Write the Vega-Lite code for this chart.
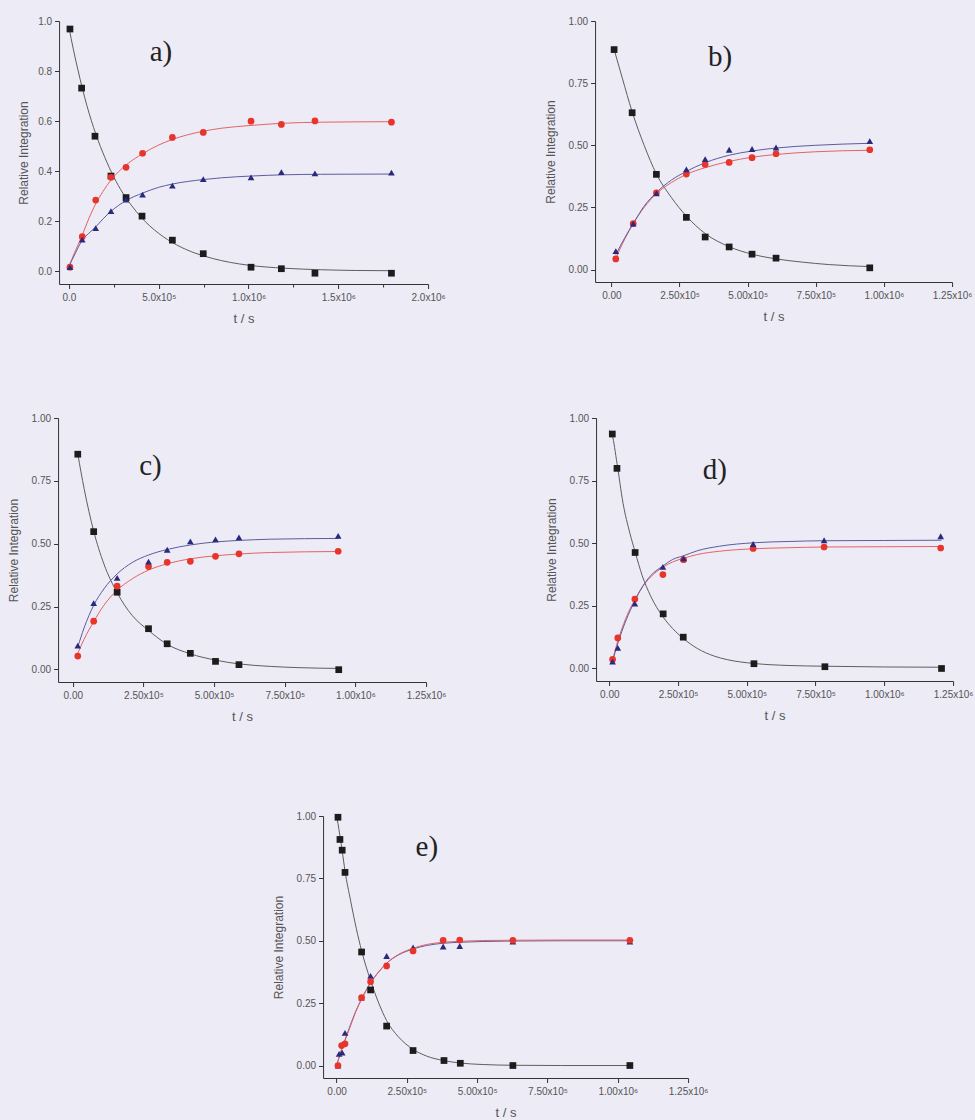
{
  "$schema": "https://vega.github.io/schema/vega-lite/v6.json",
  "background": "#ecebf6",
  "padding": {"left": 7, "top": 16, "right": 2, "bottom": 0},
  "datasets": {
    "pts": [
      {"panel":"a","series":"A","t":5600,"y":0.968},{"panel":"a","series":"A","t":70600,"y":0.732},{"panel":"a","series":"A","t":145000,"y":0.54},{"panel":"a","series":"A","t":234000,"y":0.381},{"panel":"a","series":"A","t":318000,"y":0.295},{"panel":"a","series":"A","t":407000,"y":0.221},{"panel":"a","series":"A","t":576000,"y":0.125},{"panel":"a","series":"A","t":748000,"y":0.071},{"panel":"a","series":"A","t":1014000,"y":0.017},{"panel":"a","series":"A","t":1183000,"y":0.011},{"panel":"a","series":"A","t":1370000,"y":-0.007},{"panel":"a","series":"A","t":1796000,"y":-0.007},
      {"panel":"a","series":"B","t":5600,"y":0.017},{"panel":"a","series":"B","t":74000,"y":0.139},{"panel":"a","series":"B","t":149000,"y":0.285},{"panel":"a","series":"B","t":234000,"y":0.376},{"panel":"a","series":"B","t":318000,"y":0.416},{"panel":"a","series":"B","t":410000,"y":0.472},{"panel":"a","series":"B","t":576000,"y":0.535},{"panel":"a","series":"B","t":748000,"y":0.555},{"panel":"a","series":"B","t":1014000,"y":0.6},{"panel":"a","series":"B","t":1183000,"y":0.587},{"panel":"a","series":"B","t":1370000,"y":0.601},{"panel":"a","series":"B","t":1796000,"y":0.596},
      {"panel":"a","series":"C","t":5600,"y":0.017},{"panel":"a","series":"C","t":74000,"y":0.127},{"panel":"a","series":"C","t":149000,"y":0.173},{"panel":"a","series":"C","t":234000,"y":0.241},{"panel":"a","series":"C","t":318000,"y":0.287},{"panel":"a","series":"C","t":410000,"y":0.307},{"panel":"a","series":"C","t":576000,"y":0.343},{"panel":"a","series":"C","t":748000,"y":0.369},{"panel":"a","series":"C","t":1014000,"y":0.376},{"panel":"a","series":"C","t":1183000,"y":0.397},{"panel":"a","series":"C","t":1370000,"y":0.392},{"panel":"a","series":"C","t":1796000,"y":0.395},

      {"panel":"b","series":"A","t":9800,"y":0.885},{"panel":"b","series":"A","t":76000,"y":0.631},{"panel":"b","series":"A","t":165000,"y":0.383},{"panel":"b","series":"A","t":275000,"y":0.21},{"panel":"b","series":"A","t":344000,"y":0.131},{"panel":"b","series":"A","t":432000,"y":0.091},{"panel":"b","series":"A","t":516000,"y":0.062},{"panel":"b","series":"A","t":604000,"y":0.046},{"panel":"b","series":"A","t":948000,"y":0.007},
      {"panel":"b","series":"B","t":16000,"y":0.043},{"panel":"b","series":"B","t":80000,"y":0.185},{"panel":"b","series":"B","t":165000,"y":0.309},{"panel":"b","series":"B","t":275000,"y":0.384},{"panel":"b","series":"B","t":344000,"y":0.423},{"panel":"b","series":"B","t":432000,"y":0.431},{"panel":"b","series":"B","t":516000,"y":0.45},{"panel":"b","series":"B","t":604000,"y":0.466},{"panel":"b","series":"B","t":948000,"y":0.482},
      {"panel":"b","series":"C","t":16000,"y":0.074},{"panel":"b","series":"C","t":80000,"y":0.185},{"panel":"b","series":"C","t":165000,"y":0.307},{"panel":"b","series":"C","t":275000,"y":0.403},{"panel":"b","series":"C","t":344000,"y":0.444},{"panel":"b","series":"C","t":432000,"y":0.482},{"panel":"b","series":"C","t":516000,"y":0.485},{"panel":"b","series":"C","t":604000,"y":0.491},{"panel":"b","series":"C","t":948000,"y":0.517},

      {"panel":"c","series":"A","t":17700,"y":0.856},{"panel":"c","series":"A","t":74000,"y":0.548},{"panel":"c","series":"A","t":157000,"y":0.307},{"panel":"c","series":"A","t":268000,"y":0.162},{"panel":"c","series":"A","t":334000,"y":0.102},{"panel":"c","series":"A","t":416000,"y":0.064},{"panel":"c","series":"A","t":505000,"y":0.032},{"panel":"c","series":"A","t":588000,"y":0.019},{"panel":"c","series":"A","t":941000,"y":-0.001},
      {"panel":"c","series":"B","t":17700,"y":0.053},{"panel":"c","series":"B","t":74000,"y":0.192},{"panel":"c","series":"B","t":157000,"y":0.331},{"panel":"c","series":"B","t":268000,"y":0.409},{"panel":"c","series":"B","t":334000,"y":0.426},{"panel":"c","series":"B","t":416000,"y":0.43},{"panel":"c","series":"B","t":505000,"y":0.45},{"panel":"c","series":"B","t":588000,"y":0.46},{"panel":"c","series":"B","t":939000,"y":0.47},
      {"panel":"c","series":"C","t":17700,"y":0.095},{"panel":"c","series":"C","t":74000,"y":0.264},{"panel":"c","series":"C","t":157000,"y":0.364},{"panel":"c","series":"C","t":268000,"y":0.429},{"panel":"c","series":"C","t":334000,"y":0.476},{"panel":"c","series":"C","t":416000,"y":0.509},{"panel":"c","series":"C","t":505000,"y":0.517},{"panel":"c","series":"C","t":588000,"y":0.525},{"panel":"c","series":"C","t":939000,"y":0.531},

      {"panel":"d","series":"A","t":11000,"y":0.936},{"panel":"d","series":"A","t":28000,"y":0.799},{"panel":"d","series":"A","t":94000,"y":0.463},{"panel":"d","series":"A","t":196000,"y":0.218},{"panel":"d","series":"A","t":269000,"y":0.125},{"panel":"d","series":"A","t":526000,"y":0.019},{"panel":"d","series":"A","t":784000,"y":0.007},{"panel":"d","series":"A","t":1208000,"y":0.0},
      {"panel":"d","series":"B","t":12000,"y":0.036},{"panel":"d","series":"B","t":31000,"y":0.122},{"panel":"d","series":"B","t":93000,"y":0.277},{"panel":"d","series":"B","t":195000,"y":0.375},{"panel":"d","series":"B","t":270000,"y":0.434},{"panel":"d","series":"B","t":523000,"y":0.479},{"panel":"d","series":"B","t":781000,"y":0.485},{"panel":"d","series":"B","t":1205000,"y":0.481},
      {"panel":"d","series":"C","t":12000,"y":0.027},{"panel":"d","series":"C","t":31000,"y":0.082},{"panel":"d","series":"C","t":93000,"y":0.259},{"panel":"d","series":"C","t":195000,"y":0.406},{"panel":"d","series":"C","t":270000,"y":0.44},{"panel":"d","series":"C","t":523000,"y":0.497},{"panel":"d","series":"C","t":781000,"y":0.512},{"panel":"d","series":"C","t":1205000,"y":0.528},

      {"panel":"e","series":"A","t":5000,"y":0.995},{"panel":"e","series":"A","t":12000,"y":0.906},{"panel":"e","series":"A","t":20000,"y":0.863},{"panel":"e","series":"A","t":30000,"y":0.774},{"panel":"e","series":"A","t":89000,"y":0.455},{"panel":"e","series":"A","t":121000,"y":0.303},{"panel":"e","series":"A","t":178000,"y":0.158},{"panel":"e","series":"A","t":272000,"y":0.06},{"panel":"e","series":"A","t":382000,"y":0.02},{"panel":"e","series":"A","t":440000,"y":0.009},{"panel":"e","series":"A","t":627000,"y":0.0},{"panel":"e","series":"A","t":1043000,"y":0.0},
      {"panel":"e","series":"C","t":5000,"y":0.0},{"panel":"e","series":"C","t":9000,"y":0.047},{"panel":"e","series":"C","t":20000,"y":0.052},{"panel":"e","series":"C","t":30000,"y":0.131},{"panel":"e","series":"C","t":89000,"y":0.272},{"panel":"e","series":"C","t":121000,"y":0.359},{"panel":"e","series":"C","t":178000,"y":0.439},{"panel":"e","series":"C","t":272000,"y":0.473},{"panel":"e","series":"C","t":379000,"y":0.477},{"panel":"e","series":"C","t":438000,"y":0.479},{"panel":"e","series":"C","t":627000,"y":0.497},{"panel":"e","series":"C","t":1043000,"y":0.497},
      {"panel":"e","series":"B","t":5000,"y":0.0},{"panel":"e","series":"B","t":18000,"y":0.08},{"panel":"e","series":"B","t":30000,"y":0.087},{"panel":"e","series":"B","t":89000,"y":0.272},{"panel":"e","series":"B","t":121000,"y":0.336},{"panel":"e","series":"B","t":178000,"y":0.399},{"panel":"e","series":"B","t":272000,"y":0.459},{"panel":"e","series":"B","t":379000,"y":0.502},{"panel":"e","series":"B","t":438000,"y":0.503},{"panel":"e","series":"B","t":627000,"y":0.502},{"panel":"e","series":"B","t":1043000,"y":0.502}
    ],
    "fit": [
      {"panel":"a","series":"A","t":0,"y":0.975},{"panel":"a","series":"A","t":25000,"y":0.885},{"panel":"a","series":"A","t":50000,"y":0.805},{"panel":"a","series":"A","t":75000,"y":0.73},{"panel":"a","series":"A","t":100000,"y":0.662},{"panel":"a","series":"A","t":150000,"y":0.548},{"panel":"a","series":"A","t":200000,"y":0.455},{"panel":"a","series":"A","t":250000,"y":0.377},{"panel":"a","series":"A","t":300000,"y":0.313},{"panel":"a","series":"A","t":350000,"y":0.262},{"panel":"a","series":"A","t":400000,"y":0.218},{"panel":"a","series":"A","t":500000,"y":0.152},{"panel":"a","series":"A","t":600000,"y":0.106},{"panel":"a","series":"A","t":700000,"y":0.074},{"panel":"a","series":"A","t":800000,"y":0.052},{"panel":"a","series":"A","t":900000,"y":0.036},{"panel":"a","series":"A","t":1000000,"y":0.025},{"panel":"a","series":"A","t":1200000,"y":0.013},{"panel":"a","series":"A","t":1400000,"y":0.007},{"panel":"a","series":"A","t":1600000,"y":0.004},{"panel":"a","series":"A","t":1800000,"y":0.003},
      {"panel":"a","series":"B","t":0,"y":0.02},{"panel":"a","series":"B","t":37000,"y":0.085},{"panel":"a","series":"B","t":74000,"y":0.145},{"panel":"a","series":"B","t":110000,"y":0.21},{"panel":"a","series":"B","t":149000,"y":0.27},{"panel":"a","series":"B","t":190000,"y":0.32},{"panel":"a","series":"B","t":234000,"y":0.365},{"panel":"a","series":"B","t":318000,"y":0.425},{"panel":"a","series":"B","t":410000,"y":0.47},{"panel":"a","series":"B","t":500000,"y":0.505},{"panel":"a","series":"B","t":576000,"y":0.527},{"panel":"a","series":"B","t":748000,"y":0.56},{"panel":"a","series":"B","t":850000,"y":0.572},{"panel":"a","series":"B","t":1014000,"y":0.583},{"panel":"a","series":"B","t":1200000,"y":0.592},{"panel":"a","series":"B","t":1400000,"y":0.596},{"panel":"a","series":"B","t":1800000,"y":0.598},
      {"panel":"a","series":"C","t":0,"y":0.02},{"panel":"a","series":"C","t":37000,"y":0.075},{"panel":"a","series":"C","t":74000,"y":0.125},{"panel":"a","series":"C","t":110000,"y":0.152},{"panel":"a","series":"C","t":149000,"y":0.178},{"panel":"a","series":"C","t":190000,"y":0.21},{"panel":"a","series":"C","t":234000,"y":0.24},{"panel":"a","series":"C","t":318000,"y":0.283},{"panel":"a","series":"C","t":410000,"y":0.313},{"panel":"a","series":"C","t":500000,"y":0.336},{"panel":"a","series":"C","t":576000,"y":0.349},{"panel":"a","series":"C","t":748000,"y":0.367},{"panel":"a","series":"C","t":850000,"y":0.374},{"panel":"a","series":"C","t":1014000,"y":0.381},{"panel":"a","series":"C","t":1200000,"y":0.386},{"panel":"a","series":"C","t":1400000,"y":0.388},{"panel":"a","series":"C","t":1800000,"y":0.389},

      {"panel":"b","series":"A","t":10000,"y":0.885},{"panel":"b","series":"A","t":40000,"y":0.77},{"panel":"b","series":"A","t":76000,"y":0.635},{"panel":"b","series":"A","t":120000,"y":0.5},{"panel":"b","series":"A","t":165000,"y":0.385},{"panel":"b","series":"A","t":220000,"y":0.29},{"panel":"b","series":"A","t":275000,"y":0.215},{"panel":"b","series":"A","t":344000,"y":0.145},{"panel":"b","series":"A","t":432000,"y":0.092},{"panel":"b","series":"A","t":516000,"y":0.062},{"panel":"b","series":"A","t":604000,"y":0.043},{"panel":"b","series":"A","t":700000,"y":0.03},{"panel":"b","series":"A","t":800000,"y":0.02},{"panel":"b","series":"A","t":948000,"y":0.012},
      {"panel":"b","series":"B","t":16000,"y":0.045},{"panel":"b","series":"B","t":50000,"y":0.125},{"panel":"b","series":"B","t":80000,"y":0.185},{"panel":"b","series":"B","t":120000,"y":0.25},{"panel":"b","series":"B","t":165000,"y":0.305},{"panel":"b","series":"B","t":220000,"y":0.35},{"panel":"b","series":"B","t":275000,"y":0.383},{"panel":"b","series":"B","t":344000,"y":0.41},{"panel":"b","series":"B","t":432000,"y":0.435},{"panel":"b","series":"B","t":516000,"y":0.452},{"panel":"b","series":"B","t":604000,"y":0.463},{"panel":"b","series":"B","t":750000,"y":0.474},{"panel":"b","series":"B","t":948000,"y":0.48},
      {"panel":"b","series":"C","t":16000,"y":0.06},{"panel":"b","series":"C","t":50000,"y":0.13},{"panel":"b","series":"C","t":80000,"y":0.185},{"panel":"b","series":"C","t":120000,"y":0.255},{"panel":"b","series":"C","t":165000,"y":0.31},{"panel":"b","series":"C","t":220000,"y":0.36},{"panel":"b","series":"C","t":275000,"y":0.395},{"panel":"b","series":"C","t":344000,"y":0.43},{"panel":"b","series":"C","t":432000,"y":0.46},{"panel":"b","series":"C","t":516000,"y":0.477},{"panel":"b","series":"C","t":604000,"y":0.489},{"panel":"b","series":"C","t":750000,"y":0.5},{"panel":"b","series":"C","t":948000,"y":0.508},

      {"panel":"c","series":"A","t":18000,"y":0.855},{"panel":"c","series":"A","t":40000,"y":0.72},{"panel":"c","series":"A","t":74000,"y":0.55},{"panel":"c","series":"A","t":110000,"y":0.42},{"panel":"c","series":"A","t":157000,"y":0.305},{"panel":"c","series":"A","t":210000,"y":0.215},{"panel":"c","series":"A","t":268000,"y":0.155},{"panel":"c","series":"A","t":334000,"y":0.1},{"panel":"c","series":"A","t":416000,"y":0.062},{"panel":"c","series":"A","t":505000,"y":0.037},{"panel":"c","series":"A","t":588000,"y":0.022},{"panel":"c","series":"A","t":700000,"y":0.012},{"panel":"c","series":"A","t":800000,"y":0.007},{"panel":"c","series":"A","t":940000,"y":0.004},
      {"panel":"c","series":"B","t":18000,"y":0.065},{"panel":"c","series":"B","t":40000,"y":0.12},{"panel":"c","series":"B","t":74000,"y":0.19},{"panel":"c","series":"B","t":110000,"y":0.255},{"panel":"c","series":"B","t":157000,"y":0.315},{"panel":"c","series":"B","t":210000,"y":0.36},{"panel":"c","series":"B","t":268000,"y":0.395},{"panel":"c","series":"B","t":334000,"y":0.42},{"panel":"c","series":"B","t":416000,"y":0.44},{"panel":"c","series":"B","t":505000,"y":0.452},{"panel":"c","series":"B","t":588000,"y":0.459},{"panel":"c","series":"B","t":700000,"y":0.465},{"panel":"c","series":"B","t":940000,"y":0.469},
      {"panel":"c","series":"C","t":18000,"y":0.09},{"panel":"c","series":"C","t":40000,"y":0.165},{"panel":"c","series":"C","t":74000,"y":0.255},{"panel":"c","series":"C","t":110000,"y":0.32},{"panel":"c","series":"C","t":157000,"y":0.38},{"panel":"c","series":"C","t":210000,"y":0.425},{"panel":"c","series":"C","t":268000,"y":0.455},{"panel":"c","series":"C","t":334000,"y":0.477},{"panel":"c","series":"C","t":416000,"y":0.495},{"panel":"c","series":"C","t":505000,"y":0.507},{"panel":"c","series":"C","t":588000,"y":0.513},{"panel":"c","series":"C","t":700000,"y":0.518},{"panel":"c","series":"C","t":940000,"y":0.521},

      {"panel":"d","series":"A","t":0,"y":0.95},{"panel":"d","series":"A","t":11000,"y":0.93},{"panel":"d","series":"A","t":28000,"y":0.82},{"panel":"d","series":"A","t":50000,"y":0.66},{"panel":"d","series":"A","t":75000,"y":0.54},{"panel":"d","series":"A","t":94000,"y":0.465},{"panel":"d","series":"A","t":120000,"y":0.37},{"panel":"d","series":"A","t":150000,"y":0.29},{"panel":"d","series":"A","t":196000,"y":0.205},{"panel":"d","series":"A","t":230000,"y":0.16},{"panel":"d","series":"A","t":269000,"y":0.12},{"panel":"d","series":"A","t":320000,"y":0.08},{"panel":"d","series":"A","t":380000,"y":0.05},{"panel":"d","series":"A","t":430000,"y":0.035},{"panel":"d","series":"A","t":526000,"y":0.02},{"panel":"d","series":"A","t":650000,"y":0.012},{"panel":"d","series":"A","t":784000,"y":0.009},{"panel":"d","series":"A","t":1000000,"y":0.006},{"panel":"d","series":"A","t":1208000,"y":0.005},
      {"panel":"d","series":"B","t":11000,"y":0.03},{"panel":"d","series":"B","t":31000,"y":0.11},{"panel":"d","series":"B","t":60000,"y":0.2},{"panel":"d","series":"B","t":93000,"y":0.275},{"panel":"d","series":"B","t":120000,"y":0.325},{"panel":"d","series":"B","t":150000,"y":0.365},{"panel":"d","series":"B","t":196000,"y":0.405},{"panel":"d","series":"B","t":230000,"y":0.425},{"panel":"d","series":"B","t":270000,"y":0.44},{"panel":"d","series":"B","t":320000,"y":0.455},{"panel":"d","series":"B","t":400000,"y":0.468},{"panel":"d","series":"B","t":526000,"y":0.478},{"panel":"d","series":"B","t":650000,"y":0.482},{"panel":"d","series":"B","t":784000,"y":0.485},{"panel":"d","series":"B","t":1000000,"y":0.486},{"panel":"d","series":"B","t":1208000,"y":0.487},
      {"panel":"d","series":"C","t":11000,"y":0.025},{"panel":"d","series":"C","t":31000,"y":0.1},{"panel":"d","series":"C","t":60000,"y":0.19},{"panel":"d","series":"C","t":93000,"y":0.27},{"panel":"d","series":"C","t":120000,"y":0.325},{"panel":"d","series":"C","t":150000,"y":0.37},{"panel":"d","series":"C","t":196000,"y":0.41},{"panel":"d","series":"C","t":230000,"y":0.435},{"panel":"d","series":"C","t":270000,"y":0.45},{"panel":"d","series":"C","t":320000,"y":0.47},{"panel":"d","series":"C","t":400000,"y":0.488},{"panel":"d","series":"C","t":526000,"y":0.502},{"panel":"d","series":"C","t":650000,"y":0.507},{"panel":"d","series":"C","t":784000,"y":0.51},{"panel":"d","series":"C","t":1000000,"y":0.511},{"panel":"d","series":"C","t":1208000,"y":0.512},

      {"panel":"e","series":"A","t":0,"y":1.0},{"panel":"e","series":"A","t":5000,"y":0.97},{"panel":"e","series":"A","t":12000,"y":0.92},{"panel":"e","series":"A","t":20000,"y":0.86},{"panel":"e","series":"A","t":30000,"y":0.78},{"panel":"e","series":"A","t":50000,"y":0.66},{"panel":"e","series":"A","t":70000,"y":0.55},{"panel":"e","series":"A","t":89000,"y":0.46},{"panel":"e","series":"A","t":121000,"y":0.34},{"panel":"e","series":"A","t":150000,"y":0.25},{"panel":"e","series":"A","t":178000,"y":0.18},{"panel":"e","series":"A","t":220000,"y":0.115},{"panel":"e","series":"A","t":272000,"y":0.065},{"panel":"e","series":"A","t":320000,"y":0.038},{"panel":"e","series":"A","t":380000,"y":0.02},{"panel":"e","series":"A","t":440000,"y":0.01},{"panel":"e","series":"A","t":520000,"y":0.004},{"panel":"e","series":"A","t":627000,"y":0.001},{"panel":"e","series":"A","t":800000,"y":0.0},{"panel":"e","series":"A","t":1043000,"y":0.0},
      {"panel":"e","series":"C","t":0,"y":0.0},{"panel":"e","series":"C","t":10000,"y":0.037},{"panel":"e","series":"C","t":20000,"y":0.072},{"panel":"e","series":"C","t":30000,"y":0.103},{"panel":"e","series":"C","t":50000,"y":0.165},{"panel":"e","series":"C","t":70000,"y":0.222},{"panel":"e","series":"C","t":89000,"y":0.268},{"panel":"e","series":"C","t":121000,"y":0.332},{"panel":"e","series":"C","t":150000,"y":0.376},{"panel":"e","series":"C","t":178000,"y":0.41},{"panel":"e","series":"C","t":220000,"y":0.443},{"panel":"e","series":"C","t":272000,"y":0.467},{"panel":"e","series":"C","t":320000,"y":0.481},{"panel":"e","series":"C","t":380000,"y":0.49},{"panel":"e","series":"C","t":440000,"y":0.494},{"panel":"e","series":"C","t":520000,"y":0.497},{"panel":"e","series":"C","t":627000,"y":0.499},{"panel":"e","series":"C","t":800000,"y":0.5},{"panel":"e","series":"C","t":1043000,"y":0.5},
      {"panel":"e","series":"B","t":0,"y":0.0},{"panel":"e","series":"B","t":10000,"y":0.035},{"panel":"e","series":"B","t":20000,"y":0.07},{"panel":"e","series":"B","t":30000,"y":0.1},{"panel":"e","series":"B","t":50000,"y":0.16},{"panel":"e","series":"B","t":70000,"y":0.22},{"panel":"e","series":"B","t":89000,"y":0.265},{"panel":"e","series":"B","t":121000,"y":0.33},{"panel":"e","series":"B","t":150000,"y":0.375},{"panel":"e","series":"B","t":178000,"y":0.41},{"panel":"e","series":"B","t":220000,"y":0.445},{"panel":"e","series":"B","t":272000,"y":0.47},{"panel":"e","series":"B","t":320000,"y":0.485},{"panel":"e","series":"B","t":380000,"y":0.494},{"panel":"e","series":"B","t":440000,"y":0.498},{"panel":"e","series":"B","t":520000,"y":0.501},{"panel":"e","series":"B","t":627000,"y":0.502},{"panel":"e","series":"B","t":800000,"y":0.503},{"panel":"e","series":"B","t":1043000,"y":0.503}
    ]
  },
  "vconcat": [
    {
      "hconcat": [
        {
          "width": 369, "height": 263,
          "layer": [
            {
              "encoding": {
                "x": {"field": "t", "type": "quantitative", "title": "t / s",
                  "scale": {"domain": [-55000, 2000000], "nice": false, "zero": false},
                  "axis": {"values": [0,250000,500000,750000,1000000,1250000,1500000,1750000,2000000],
                    "labelExpr": "datum.value % 500000 !== 0 ? '' : datum.value === 0 ? '0.0' : datum.value < 1000000 ? format(datum.value/100000,'.1f') + 'x10⁵' : format(datum.value/1000000,'.1f') + 'x10⁶'",
                    "tickSize": {"condition": {"test": "datum.value % 500000 !== 0", "value": 3}, "value": 4.5}}},
                "y": {"field": "y", "type": "quantitative", "title": "Relative Integration",
                  "scale": {"domain": [-0.05, 1.0], "nice": false, "zero": false},
                  "axis": {"values": [0,0.1,0.2,0.3,0.4,0.5,0.6,0.7,0.8,0.9,1.0], "titlePadding": 7.5,
                    "labelExpr": "round(datum.value*10) % 2 === 0 ? format(datum.value,'.1f') : ''",
                    "tickSize": {"condition": {"test": "round(datum.value*10) % 2 !== 0", "value": 3}, "value": 4.5}}}
              },
              "layer": [
                {"data": {"name": "fit"}, "transform": [{"filter": "datum.panel === 'a'"}],
                  "mark": {"type": "line", "interpolate": "monotone", "strokeWidth": 1},
                  "encoding": {"stroke": {"field": "series", "type": "nominal", "scale": {"domain": ["A","B","C"], "range": ["#5e5e5e","#e46464","#5c5c9e"]}, "legend": null}}},
                {"data": {"name": "pts"}, "transform": [{"filter": "datum.panel === 'a'"}],
                  "mark": {"type": "point", "filled": true, "opacity": 1, "size": 45},
                  "encoding": {
                    "fill": {"field": "series", "type": "nominal", "scale": {"domain": ["A","B","C"], "range": ["#1c1c1c","#e8352b","#2a2a7c"]}, "legend": null},
                    "shape": {"field": "series", "type": "nominal", "scale": {"domain": ["A","B","C"], "range": ["square","circle","triangle-up"]}, "legend": null}}}
              ]
            },
            {"data": {"values": [{"label": "a)"}]},
              "mark": {"type": "text", "font": "Liberation Serif", "fontSize": 29, "fill": "#222222", "align": "center", "baseline": "middle"},
              "encoding": {"x": {"datum": 512500, "type": "quantitative"}, "y": {"datum": 0.876, "type": "quantitative"}, "text": {"field": "label", "type": "nominal"}}}
          ]
        },
        {
          "width": 357, "height": 261,
          "layer": [
            {
              "encoding": {
                "x": {"field": "t", "type": "quantitative", "title": "t / s",
                  "scale": {"domain": [-60000, 1250000], "nice": false, "zero": false},
                  "axis": {"values": [0,125000,250000,375000,500000,625000,750000,875000,1000000,1125000,1250000],
                    "labelExpr": "datum.value % 250000 !== 0 ? '' : datum.value === 0 ? '0.00' : datum.value < 1000000 ? format(datum.value/100000,'.2f') + 'x10⁵' : format(datum.value/1000000,'.2f') + 'x10⁶'",
                    "tickSize": {"condition": {"test": "datum.value % 250000 !== 0", "value": 3}, "value": 4.5}}},
                "y": {"field": "y", "type": "quantitative", "title": "Relative Integration",
                  "scale": {"domain": [-0.05, 1.0], "nice": false, "zero": false},
                  "axis": {"values": [0,0.125,0.25,0.375,0.5,0.625,0.75,0.875,1.0],
                    "labelExpr": "round(datum.value*8) % 2 === 0 ? format(datum.value,'.2f') : ''",
                    "tickSize": {"condition": {"test": "round(datum.value*8) % 2 !== 0", "value": 3}, "value": 4.5}}}
              },
              "layer": [
                {"data": {"name": "fit"}, "transform": [{"filter": "datum.panel === 'b'"}],
                  "mark": {"type": "line", "interpolate": "monotone", "strokeWidth": 1},
                  "encoding": {"stroke": {"field": "series", "type": "nominal", "scale": {"domain": ["A","B","C"], "range": ["#5e5e5e","#e46464","#5c5c9e"]}, "legend": null}}},
                {"data": {"name": "pts"}, "transform": [{"filter": "datum.panel === 'b'"}],
                  "mark": {"type": "point", "filled": true, "opacity": 1, "size": 45},
                  "encoding": {
                    "fill": {"field": "series", "type": "nominal", "scale": {"domain": ["A","B","C"], "range": ["#1c1c1c","#e8352b","#2a2a7c"]}, "legend": null},
                    "shape": {"field": "series", "type": "nominal", "scale": {"domain": ["A","B","C"], "range": ["square","circle","triangle-up"]}, "legend": null}}}
              ]
            },
            {"data": {"values": [{"label": "b)"}]},
              "mark": {"type": "text", "font": "Liberation Serif", "fontSize": 29, "fill": "#222222", "align": "center", "baseline": "middle"},
              "encoding": {"x": {"datum": 399000, "type": "quantitative"}, "y": {"datum": 0.854, "type": "quantitative"}, "text": {"field": "label", "type": "nominal"}}}
          ]
        }
      ],
      "spacing": 98
    },
    {
      "hconcat": [
        {
          "width": 368, "height": 264,
          "layer": [
            {
              "encoding": {
                "x": {"field": "t", "type": "quantitative", "title": "t / s",
                  "scale": {"domain": [-52000, 1250000], "nice": false, "zero": false},
                  "axis": {"values": [0,125000,250000,375000,500000,625000,750000,875000,1000000,1125000,1250000],
                    "labelExpr": "datum.value % 250000 !== 0 ? '' : datum.value === 0 ? '0.00' : datum.value < 1000000 ? format(datum.value/100000,'.2f') + 'x10⁵' : format(datum.value/1000000,'.2f') + 'x10⁶'",
                    "tickSize": {"condition": {"test": "datum.value % 250000 !== 0", "value": 3}, "value": 4.5}}},
                "y": {"field": "y", "type": "quantitative", "title": "Relative Integration",
                  "scale": {"domain": [-0.05, 1.0], "nice": false, "zero": false},
                  "axis": {"values": [0,0.125,0.25,0.375,0.5,0.625,0.75,0.875,1.0],
                    "labelExpr": "round(datum.value*8) % 2 === 0 ? format(datum.value,'.2f') : ''",
                    "tickSize": {"condition": {"test": "round(datum.value*8) % 2 !== 0", "value": 3}, "value": 4.5}}}
              },
              "layer": [
                {"data": {"name": "fit"}, "transform": [{"filter": "datum.panel === 'c'"}],
                  "mark": {"type": "line", "interpolate": "monotone", "strokeWidth": 1},
                  "encoding": {"stroke": {"field": "series", "type": "nominal", "scale": {"domain": ["A","B","C"], "range": ["#5e5e5e","#e46464","#5c5c9e"]}, "legend": null}}},
                {"data": {"name": "pts"}, "transform": [{"filter": "datum.panel === 'c'"}],
                  "mark": {"type": "point", "filled": true, "opacity": 1, "size": 45},
                  "encoding": {
                    "fill": {"field": "series", "type": "nominal", "scale": {"domain": ["A","B","C"], "range": ["#1c1c1c","#e8352b","#2a2a7c"]}, "legend": null},
                    "shape": {"field": "series", "type": "nominal", "scale": {"domain": ["A","B","C"], "range": ["square","circle","triangle-up"]}, "legend": null}}}
              ]
            },
            {"data": {"values": [{"label": "c)"}]},
              "mark": {"type": "text", "font": "Liberation Serif", "fontSize": 29, "fill": "#222222", "align": "center", "baseline": "middle"},
              "encoding": {"x": {"datum": 275000, "type": "quantitative"}, "y": {"datum": 0.809, "type": "quantitative"}, "text": {"field": "label", "type": "nominal"}}}
          ]
        },
        {
          "width": 357, "height": 263,
          "layer": [
            {
              "encoding": {
                "x": {"field": "t", "type": "quantitative", "title": "t / s",
                  "scale": {"domain": [-48000, 1250000], "nice": false, "zero": false},
                  "axis": {"values": [0,125000,250000,375000,500000,625000,750000,875000,1000000,1125000,1250000],
                    "labelExpr": "datum.value % 250000 !== 0 ? '' : datum.value === 0 ? '0.00' : datum.value < 1000000 ? format(datum.value/100000,'.2f') + 'x10⁵' : format(datum.value/1000000,'.2f') + 'x10⁶'",
                    "tickSize": {"condition": {"test": "datum.value % 250000 !== 0", "value": 3}, "value": 4.5}}},
                "y": {"field": "y", "type": "quantitative", "title": "Relative Integration",
                  "scale": {"domain": [-0.05, 1.0], "nice": false, "zero": false},
                  "axis": {"values": [0,0.125,0.25,0.375,0.5,0.625,0.75,0.875,1.0],
                    "labelExpr": "round(datum.value*8) % 2 === 0 ? format(datum.value,'.2f') : ''",
                    "tickSize": {"condition": {"test": "round(datum.value*8) % 2 !== 0", "value": 3}, "value": 4.5}}}
              },
              "layer": [
                {"data": {"name": "fit"}, "transform": [{"filter": "datum.panel === 'd'"}],
                  "mark": {"type": "line", "interpolate": "monotone", "strokeWidth": 1},
                  "encoding": {"stroke": {"field": "series", "type": "nominal", "scale": {"domain": ["A","B","C"], "range": ["#5e5e5e","#e46464","#5c5c9e"]}, "legend": null}}},
                {"data": {"name": "pts"}, "transform": [{"filter": "datum.panel === 'd'"}],
                  "mark": {"type": "point", "filled": true, "opacity": 1, "size": 45},
                  "encoding": {
                    "fill": {"field": "series", "type": "nominal", "scale": {"domain": ["A","B","C"], "range": ["#1c1c1c","#e8352b","#2a2a7c"]}, "legend": null},
                    "shape": {"field": "series", "type": "nominal", "scale": {"domain": ["A","B","C"], "range": ["square","circle","triangle-up"]}, "legend": null}}}
              ]
            },
            {"data": {"values": [{"label": "d)"}]},
              "mark": {"type": "text", "font": "Liberation Serif", "fontSize": 29, "fill": "#222222", "align": "center", "baseline": "middle"},
              "encoding": {"x": {"datum": 384000, "type": "quantitative"}, "y": {"datum": 0.793, "type": "quantitative"}, "text": {"field": "label", "type": "nominal"}}}
          ]
        }
      ],
      "spacing": 99
    },
    {
      "width": 365, "height": 262,
      "layer": [
        {
          "encoding": {
            "x": {"field": "t", "type": "quantitative", "title": "t / s",
              "scale": {"domain": [-48000, 1250000], "nice": false, "zero": false},
              "axis": {"values": [0,125000,250000,375000,500000,625000,750000,875000,1000000,1125000,1250000],
                "labelExpr": "datum.value % 250000 !== 0 ? '' : datum.value === 0 ? '0.00' : datum.value < 1000000 ? format(datum.value/100000,'.2f') + 'x10⁵' : format(datum.value/1000000,'.2f') + 'x10⁶'",
                "tickSize": {"condition": {"test": "datum.value % 250000 !== 0", "value": 3}, "value": 4.5}}},
            "y": {"field": "y", "type": "quantitative", "title": "Relative Integration",
              "scale": {"domain": [-0.05, 1.0], "nice": false, "zero": false},
              "axis": {"values": [0,0.125,0.25,0.375,0.5,0.625,0.75,0.875,1.0],
                "labelExpr": "round(datum.value*8) % 2 === 0 ? format(datum.value,'.2f') : ''",
                "tickSize": {"condition": {"test": "round(datum.value*8) % 2 !== 0", "value": 3}, "value": 4.5}}}
          },
          "layer": [
            {"data": {"name": "fit"}, "transform": [{"filter": "datum.panel === 'e'"}],
              "mark": {"type": "line", "interpolate": "monotone", "strokeWidth": 1},
              "encoding": {"stroke": {"field": "series", "type": "nominal", "scale": {"domain": ["A","B","C"], "range": ["#5e5e5e","#e46464","#5c5c9e"]}, "legend": null}}},
            {"data": {"name": "pts"}, "transform": [{"filter": "datum.panel === 'e'"}],
              "mark": {"type": "point", "filled": true, "opacity": 1, "size": 45},
              "encoding": {
                "fill": {"field": "series", "type": "nominal", "scale": {"domain": ["A","B","C"], "range": ["#1c1c1c","#e8352b","#2a2a7c"]}, "legend": null},
                "shape": {"field": "series", "type": "nominal", "scale": {"domain": ["A","B","C"], "range": ["square","circle","triangle-up"]}, "legend": null}}}
          ]
        },
        {"data": {"values": [{"label": "e)"}]},
          "mark": {"type": "text", "font": "Liberation Serif", "fontSize": 29, "fill": "#222222", "align": "center", "baseline": "middle"},
          "encoding": {"x": {"datum": 321000, "type": "quantitative"}, "y": {"datum": 0.875, "type": "quantitative"}, "text": {"field": "label", "type": "nominal"}}}
      ]
    }
  ],
  "spacing": 87,
  "center": true,
  "config": {
    "view": {"stroke": null},
    "axis": {
      "grid": false,
      "domainColor": "#333333",
      "tickColor": "#333333",
      "labelColor": "#555555",
      "titleColor": "#555555",
      "labelFont": "Liberation Sans",
      "titleFont": "Liberation Sans",
      "labelFontSize": 10,
      "titleFontWeight": "normal",
      "labelFlush": false,
      "labelOverlap": false
    },
    "axisX": {"labelPadding": 4, "titlePadding": 10, "titleFontSize": 13},
    "axisY": {"labelPadding": 3, "titlePadding": 10.5, "titleFontSize": 12}
  }
}
